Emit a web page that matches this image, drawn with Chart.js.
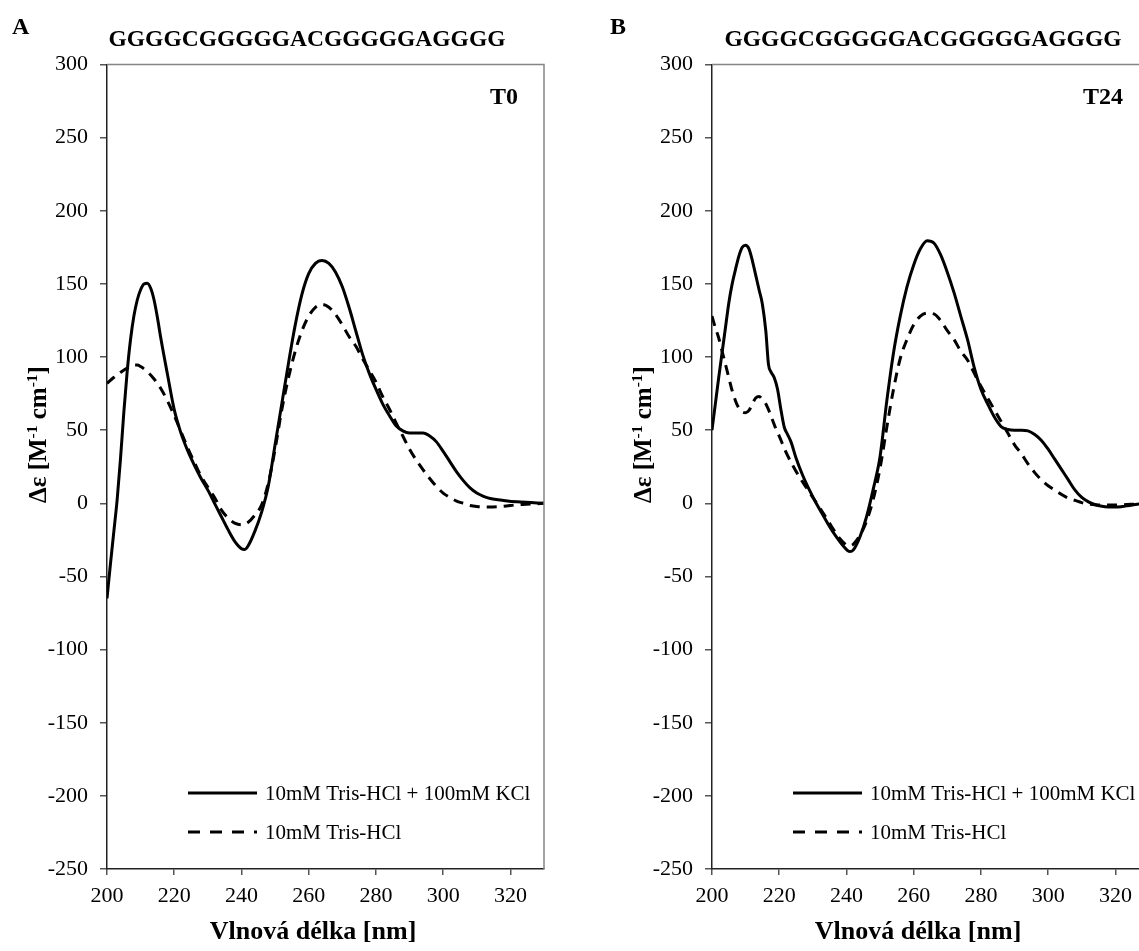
<!DOCTYPE html>
<html>
<head>
<meta charset="utf-8">
<script src="https://cdn.jsdelivr.net/npm/chart.js"></script>
<style>
  html, body { margin: 0; padding: 0; background: #fff; overflow: hidden; width: 1139px; height: 951px; }
  canvas { position: absolute; top: 0; }
  #cA { left: 0; }
  #cB { left: 605px; }
</style>
</head>
<body>
<canvas id="cA" width="570" height="951"></canvas>
<canvas id="cB" width="570" height="951"></canvas>
<script>
// ---------- DATA ----------
const sequence = 'GGGGCGGGGGACGGGGGAGGGG';
const panelLetters = ['A', 'B'];
const panelTags = ['T0', 'T24'];
const seriesLabels = ['10mM Tris-HCl + 100mM KCl', '10mM Tris-HCl'];
const xTitle = 'Vlnová délka [nm]';
const yTicks = [-250, -200, -150, -100, -50, 0, 50, 100, 150, 200, 250, 300];
const xTicks = [200, 220, 240, 260, 280, 300, 320];

// Panel A (T0), KCl (solid)
const waveA_kcl = [200,201,202,203,204,205,206,207,208,209,210,211,212,213,214,215,216,218,220,222,224,226,228,230,232,234,236,238,240,241,242,244,246,248,250,252,254,256,258,260,262,264,266,268,270,272,274,276,278,280,282,284,286,288,290,292,294,296,298,300,302,304,306,308,310,312,314,318,322,326,330];
const valsA_kcl = [-65,-42,-20,2,30,62,90,112,128,139,146,150,150.5,147,139,127,113,88,64,48,36,26,17,9,0,-9,-18,-26,-31,-31.5,-29,-19,-6,12,40,68,96,122,143,157,164,166,164,158,148,134,118,102,89,78,68,60,53,49.5,48,48,48,46,42,35.5,28.5,21.5,15.5,10.5,7,4.8,3.3,2,1,0.5,0];
// Panel A (T0), Tris only (dashed)
const waveA_tris = [200,202,204,206,208,209,210,212,214,216,218,220,222,224,226,228,230,232,234,236,238,240,242,244,246,248,250,252,254,256,258,260,262,264,266,268,270,272,274,276,278,280,282,284,286,288,290,292,294,296,298,300,302,304,306,308,310,314,318,322,326,330];
const valsA_tris = [82,86,89.5,92.5,94.5,94.5,93.5,90,85,78.5,70,60,49,38,28,18.5,11,4,-4.5,-10,-13.5,-14.7,-13,-8,-1,14,37,64,86,104,118,128,134,136,134,129,122,114,107.5,99,91,83,73,64.5,55,46,37,29.5,23,17,11.5,7,4,1.5,0,-1.5,-2.2,-2.6,-2,-1,-0.5,0];
// Panel B (T24), KCl (solid)
const waveB_kcl = [200,201,202,203,204,205,206,207,208,209,210,211,212,213,214,215,216,216.8,217.5,218.5,219.5,220.5,221.5,222.5,223.5,225,227,229,231,233,235,237,239,241,242,244,246,248,250,252,254,256,258,260,262,264,266,268,270,272,274,276,278,280,282,284,286,288,290,292,294,296,298,300,302,304,306,308,310,312,314,316,318,320,322,324,326,328,330];
const valsB_kcl = [50,68,86,103,120,137,150,160,169,175,176.5,174,166,156,146,136,118,95,90,86,78,64,52,47,42,31,19,9,0,-8,-16,-23,-29,-33,-32,-23,-9,10,32,70,103,128,148,163,174,179.5,178,170,158,144,128,112,93,78,68,59,52.5,50.5,50,50,49.5,47,43,37,30,23,16,9,4,1,-1,-2,-2.5,-2.6,-2.2,-1.5,-0.8,-0.3,0];
// Panel B (T24), Tris only (dashed)
const waveB_tris = [200,201,202,203,204,205,206,207,208,209,210,211,212,213,214,215,216,217,218,219,220,222,224,226,228,230,232,234,236,238,240,241,242,244,246,248,250,252,254,256,258,260,262,264,266,268,270,272,274,276,278,280,282,284,286,288,290,292,294,296,298,300,302,304,306,308,310,312,314,318,322,326,330];
const valsB_tris = [128,120,113,104,95,86,77,70,65,62.5,62,63.5,68,72,73,71,68,63,57,51,46,35,26,18,11,4,-3,-10,-17.5,-24,-28.5,-29,-28,-22,-12,3,24,52,78,99,112,122,128,130,129.5,125,118,112,104,98,89,80,72,64,56,48,40,34,27,21,16,12,9,6,3.5,2,0.5,-0.5,-1,-1.2,-1,-0.5,0];

// ---------- HELPERS ----------
const FONT = '"Liberation Serif", "Times New Roman", serif';
function pts(xs, ys) { return xs.map((x, i) => ({ x: x, y: ys[i] })); }

const decor = {
  id: 'decor',
  afterDraw(chart, args, o) {
    const ctx = chart.ctx, a = chart.chartArea;
    const L = a.left, T = a.top, R = a.right, B = a.bottom;
    ctx.save();
    // frame top and right
    ctx.strokeStyle = '#858585'; ctx.lineWidth = 1.5; ctx.setLineDash([]);
    ctx.beginPath(); ctx.moveTo(L, T); ctx.lineTo(R, T); ctx.lineTo(R, B); ctx.stroke();
    ctx.fillStyle = '#000';
    // panel letter
    ctx.font = 'bold 24px ' + FONT; ctx.textBaseline = 'middle'; ctx.textAlign = 'left';
    ctx.fillText(o.letter, L + o.letterDx, 28);
    // sequence title
    ctx.font = 'bold 23.5px ' + FONT; ctx.textAlign = 'center';
    ctx.fillText(o.sequence, L + o.seqDx, 40);
    // time tag
    ctx.textAlign = 'right'; ctx.font = 'bold 24px ' + FONT;
    ctx.fillText(o.tag, L + 411, 98);
    // x title
    ctx.textAlign = 'center'; ctx.textBaseline = 'alphabetic'; ctx.font = 'bold 26px ' + FONT;
    ctx.fillText(o.xTitle, L + 206, 939);
    // y title with superscripts
    const segs = [['Δε [M', false], ['-1', true], [' cm', false], ['-1', true], [']', false]];
    const fMain = 'bold 25px ' + FONT, fSup = 'bold 15.5px ' + FONT;
    let total = 0;
    segs.forEach(s => { ctx.font = s[1] ? fSup : fMain; total += ctx.measureText(s[0]).width; });
    ctx.save();
    ctx.translate(L - 61, 434.5);
    ctx.rotate(-Math.PI / 2);
    ctx.textAlign = 'left';
    let xx = -total / 2;
    segs.forEach(s => {
      ctx.font = s[1] ? fSup : fMain;
      ctx.fillText(s[0], xx, s[1] ? -9.5 : 0);
      xx += ctx.measureText(s[0]).width;
    });
    ctx.restore();
    // legend
    ctx.font = '21px ' + FONT; ctx.textAlign = 'left'; ctx.textBaseline = 'middle';
    const rows = [793, 832];
    chart.data.datasets.forEach((ds, i) => {
      const y = rows[i];
      ctx.strokeStyle = '#000'; ctx.lineWidth = 3;
      ctx.setLineDash(ds.borderDash && ds.borderDash.length ? [12, 10] : []);
      ctx.beginPath(); ctx.moveTo(L + 81, y); ctx.lineTo(L + 150, y); ctx.stroke();
      ctx.setLineDash([]);
      ctx.fillText(ds.label, L + 158, y + 1);
    });
    ctx.restore();
  }
};

function makeChart(id, idx, solidX, solidY, dashX, dashY, letterDx, seqDx) {
  const canvas = document.getElementById(id);
  return new Chart(canvas, {
    type: 'line',
    data: {
      datasets: [
        { label: seriesLabels[0], data: pts(solidX, solidY), borderColor: '#000', borderWidth: 3,
          pointRadius: 0, cubicInterpolationMode: 'monotone', fill: false },
        { label: seriesLabels[1], data: pts(dashX, dashY), borderColor: '#000', borderWidth: 3,
          borderDash: [10, 7], pointRadius: 0, cubicInterpolationMode: 'monotone', fill: false }
      ]
    },
    options: {
      responsive: false,
      animation: false,
      devicePixelRatio: 1,
      layout: { padding: { left: 0, top: 64.5, right: 26, bottom: 0 } },
      plugins: {
        legend: { display: false },
        tooltip: { enabled: false },
        decor: { letter: panelLetters[idx], tag: panelTags[idx], sequence: sequence, xTitle: xTitle,
                 letterDx: letterDx, seqDx: seqDx }
      },
      scales: {
        x: {
          type: 'linear', min: 200, max: 330,
          afterFit: s => { s.height = 82; },
          afterBuildTicks: s => { s.ticks = xTicks.map(v => ({ value: v })); },
          ticks: { font: { family: FONT, size: 22 }, color: '#000', padding: 8, maxRotation: 0 },
          grid: { drawOnChartArea: false, tickLength: 6, color: '#555', lineWidth: 1.5 },
          border: { color: '#222', width: 1.5 }
        },
        y: {
          min: -250, max: 300,
          afterFit: s => { s.width = 107; },
          afterBuildTicks: s => { s.ticks = yTicks.map(v => ({ value: v })); },
          ticks: { font: { family: FONT, size: 22 }, color: '#000', padding: 12 },
          grid: { drawOnChartArea: false, tickLength: 7, color: '#555', lineWidth: 1.5 },
          border: { color: '#222', width: 1.5 }
        }
      }
    },
    plugins: [decor]
  });
}

makeChart('cA', 0, waveA_kcl, valsA_kcl, waveA_tris, valsA_tris, -95, 200);
makeChart('cB', 1, waveB_kcl, valsB_kcl, waveB_tris, valsB_tris, -102, 211);
</script>
</body>
</html>
